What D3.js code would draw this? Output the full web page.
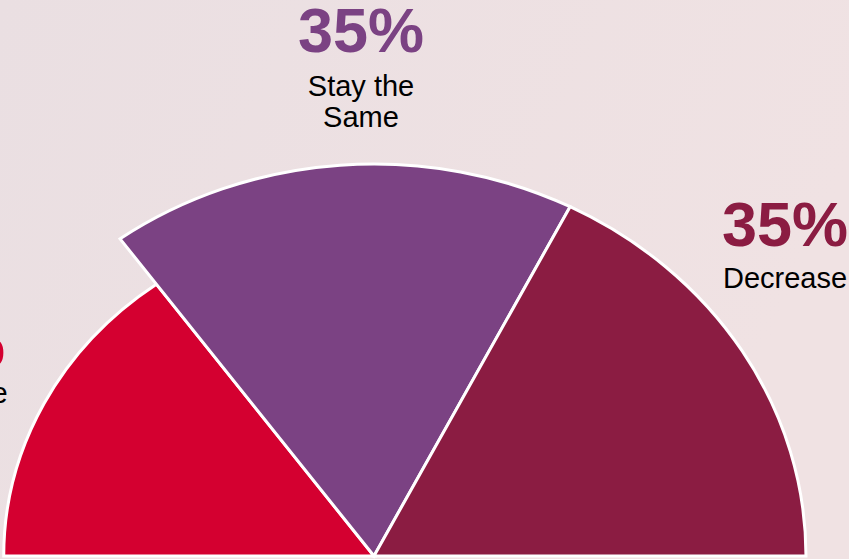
<!DOCTYPE html>
<html>
<head>
<meta charset="utf-8">
<script src="https://cdn.jsdelivr.net/npm/d3@7"></script>
<style>
  body { margin: 0; overflow: hidden; }
</style>
</head>
<body>
<script>
// chart values
const categories = ['Increase', 'Stay the Same', 'Decrease']
const shares = [30, 35, 35]
const labelLines = [['Increase'], ['Stay the', 'Same'], ['Decrease']]

// styling / layout
const colors = ['#d40030', '#7b4283', '#8b1c42']
const radii = [336, 392, 392]
const labelPos = [
    {px: -58, x: -48, pct: 366, text: 403},
    {px: 361, x: 361, pct: 52, text: 96},
    {px: 785, x: 785, pct: 246, text: 288}
]

let width = 849
let height = 559
let cx = 374
let cy = 556
let stretch = 1.102

let svg = d3.select('body').append('svg')
    .attr('width', width)
    .attr('height', height)

let defs = svg.append('defs')
let grad = defs.append('linearGradient')
    .attr('id', 'bg')
    .attr('x1', '0').attr('y1', '0')
    .attr('x2', '1').attr('y2', '0.3')
grad.append('stop').attr('offset', '0').attr('stop-color', '#eadfe2')
grad.append('stop').attr('offset', '1').attr('stop-color', '#f0e2e3')

svg.append('rect')
    .attr('width', width)
    .attr('height', height)
    .attr('fill', 'url(#bg)')

let pie = d3.pie()
    .sort(null)
    .startAngle(-Math.PI / 2)
    .endAngle(Math.PI / 2)
    .value(d => d)

let arc = d3.arc()
    .innerRadius(0)
    .outerRadius(d => radii[d.index])

let arcs = pie(shares)

let pie_g = svg.append('g')
    .attr('transform', 'translate(' + cx + ',' + cy + ') scale(' + stretch + ',1)')

pie_g.selectAll('path')
    .data(arcs)
    .join('path')
    .attr('d', arc)
    .attr('fill', d => colors[d.index])
    .attr('stroke', '#ffffff')
    .attr('stroke-width', 3)
    .attr('stroke-linejoin', 'miter')
    .attr('vector-effect', 'non-scaling-stroke')

let labels = svg.append('g')
    .style('font-family', '"Liberation Sans", Arial, sans-serif')
    .attr('text-anchor', 'middle')

categories.forEach((c, i) => {
    labels.append('text')
        .attr('x', labelPos[i].px)
        .attr('y', labelPos[i].pct)
        .attr('fill', colors[i])
        .style('font-size', '63px')
        .style('font-weight', 'bold')
        .text(shares[i] + '%')

    labelLines[i].forEach((line, j) => {
        labels.append('text')
            .attr('x', labelPos[i].x)
            .attr('y', labelPos[i].text + j * 31)
            .attr('fill', '#000000')
            .style('font-size', '29px')
            .text(line)
    })
})
</script>
</body>
</html>
